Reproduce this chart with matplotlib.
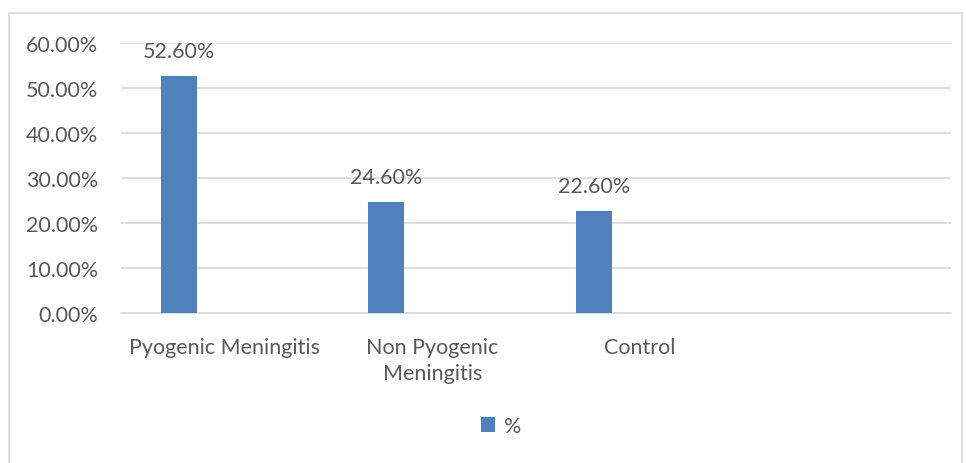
import matplotlib.pyplot as plt
import matplotlib.ticker as mticker
from matplotlib.patches import Rectangle, Patch
import numpy as np

# Category data (fourth slot stays empty)
categories = ['Pyogenic Meningitis', 'Non Pyogenic\nMeningitis', 'Control', '']
values = [0.526, 0.246, 0.226]
series_name = '%'

bar_color = '#4F81BD'
text_color = '#595959'
grid_color = '#D9D9D9'
font = ['Lato', 'DejaVu Sans']
fs = 15.5

W, H = 966, 464
fig = plt.figure(figsize=(W / 100, H / 100), dpi=100)

# light frame around the whole chart area
fig.patches.append(Rectangle((9 / W, -0.05), 953 / W, 1.05 - 14 / H,
                             transform=fig.transFigure, fill=False,
                             edgecolor=grid_color, linewidth=1.2))

ax = fig.add_axes([121 / W, 1 - 314 / H, 830 / W, 270 / H])

x = np.arange(len(categories))
bar_w = 0.1735
offset = -0.2205
bx = x[:len(values)] + offset
ax.bar(bx, values, width=bar_w, color=bar_color, zorder=3)

for xi, v in zip(bx, values):
    ax.annotate(f'{v:.2%}', (xi, v), xytext=(0, 11), textcoords='offset points',
                ha='center', va='bottom', fontsize=fs, color=text_color,
                family=font)

ax.set_xlim(-0.5, len(categories) - 0.5)
ax.set_ylim(0, 0.6)
ax.yaxis.set_major_locator(mticker.MultipleLocator(0.1))
ax.yaxis.set_major_formatter(mticker.FuncFormatter(lambda v, p: f'{v:.2%}'))
ax.set_xticks(x)
ax.set_xticklabels(categories, fontsize=fs, color=text_color, family=font,
                   linespacing=1.4, va='top')
for lbl in ax.get_yticklabels():
    lbl.set_fontsize(fs)
    lbl.set_color(text_color)
    lbl.set_family(font)

ax.tick_params(axis='both', length=0)
ax.tick_params(axis='x', pad=17)
ax.tick_params(axis='y', pad=16.5)
ax.grid(axis='y', color=grid_color, linewidth=1.2, zorder=0)
for side in ['top', 'right', 'left']:
    ax.spines[side].set_visible(False)
ax.spines['bottom'].set_color(grid_color)
ax.spines['bottom'].set_linewidth(1.2)

handle = Patch(facecolor=bar_color, edgecolor='none')
fig.legend([handle], [series_name], loc='center', bbox_to_anchor=(501 / W, 1 - 427 / H),
           frameon=False, handlelength=0.65, handleheight=0.65, handletextpad=0.4,
           prop={'family': font, 'size': fs}, labelcolor=text_color)

fig.savefig('out.png', dpi=100)
